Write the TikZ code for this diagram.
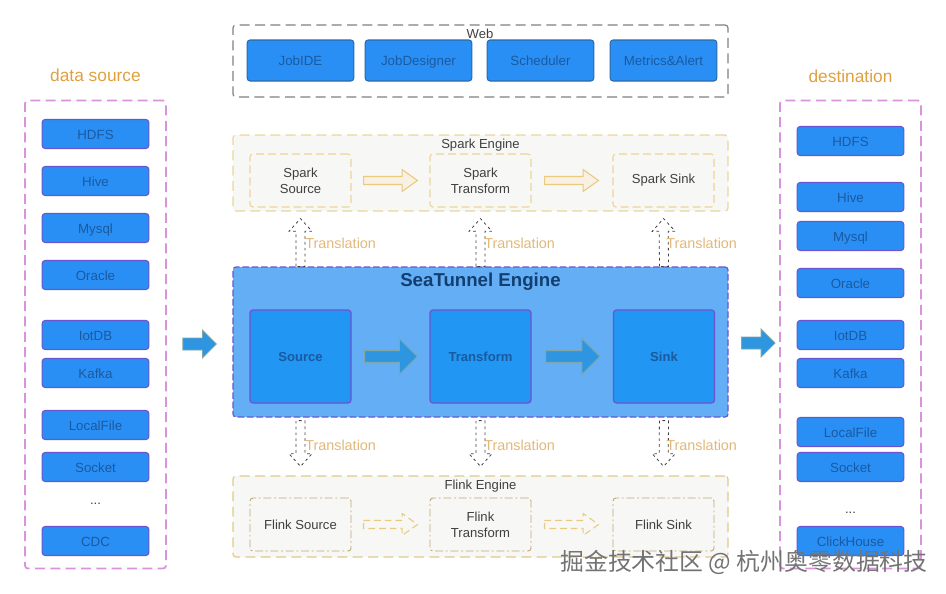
\documentclass[tikz,border=0pt]{standalone}
\usepackage{fontspec}
\setmainfont{Liberation Sans}
\newfontfamily\cjkfont{Noto Sans CJK SC}
\usepackage{tikz}
\usetikzlibrary{arrows.meta}
\usetikzlibrary{positioning}
\usetikzlibrary{calc}

\definecolor{itemblue}{HTML}{2A8FF5}
\definecolor{itemtext}{HTML}{1A5AA0}
\definecolor{itemline}{HTML}{6A55D0}
\definecolor{webline}{HTML}{2A6AA8}
\definecolor{corefill}{HTML}{2196F3}
\definecolor{enginefill}{HTML}{64AEF5}
\definecolor{enginetext}{HTML}{123F70}
\definecolor{pinkline}{HTML}{D993DC}
\definecolor{sandline}{HTML}{EBD59B}
\definecolor{flinkline}{HTML}{E3C88A}
\definecolor{sandfill}{HTML}{F7F7F5}
\definecolor{labelorange}{HTML}{E0A040}
\definecolor{transtext}{HTML}{E2B878}
\definecolor{arrowblue}{HTML}{2E96E0}
\definecolor{arrowedge}{HTML}{7FA6A8}
\definecolor{hollowline}{HTML}{EAC980}
\definecolor{hollowfill}{HTML}{F8F1E3}

\tikzset{
    item/.style={draw=itemline, fill=itemblue, text=itemtext, line width=0.8pt, rounded corners=2.2pt, minimum width=80pt, minimum height=21.75pt, inner sep=0pt, text height=10pt, text depth=2pt, font=\fontsize{10pt}{11pt}\selectfont},
    webitem/.style={item, draw=webline, minimum width=80pt, minimum height=30.75pt},
    column/.style={draw=pinkline, line width=1.3pt, dash pattern=on 7.5pt off 4pt, rounded corners=2.2pt, minimum width=105.75pt, minimum height=351pt, inner sep=0pt},
    band/.style={draw=sandline, fill=sandfill, line width=0.9pt, dash pattern=on 7.5pt off 4pt, rounded corners=2.2pt, minimum width=371.25pt, inner sep=0pt},
    phase/.style={draw=sandline, line width=0.8pt, dash pattern=on 6pt off 3pt, rounded corners=2.2pt, minimum width=75.75pt, minimum height=39.75pt, inner sep=0pt, align=center, text=black!75, font=\fontsize{9.8pt}{12pt}\selectfont},
    flinkphase/.style={phase, draw=black!15!flinkline, line width=0.7pt, dash pattern=on 6pt off 2pt on 1.5pt off 2pt},
    core/.style={draw=itemline, fill=corefill, text=itemtext, line width=0.9pt, rounded corners=2.2pt, minimum width=75.75pt, minimum height=69.75pt, inner sep=0pt, text height=10pt, text depth=2pt, font=\bfseries\fontsize{9.8pt}{11pt}\selectfont},
    plain/.style={inner sep=0pt, text=black!75, font=\fontsize{9.8pt}{11pt}\selectfont},
    heading/.style={inner sep=0pt, text=labelorange, font=\fontsize{13pt}{15pt}\selectfont},
    trans/.style={inner sep=0pt, anchor=west, text=transtext, font=\fontsize{10.8pt}{13pt}\selectfont},
    block/.style n args={5}{to path={
        let \p1=(\tikztostart), \p2=(\tikztotarget), \n1={atan2(\y2-\y1,\x2-\x1)}, \n2={veclen(\x2-\x1,\y2-\y1)} in
        ([shift={(\p1)}, rotate=\n1]#1,#3)
        -- ([shift={(\p1)}, rotate=\n1]\n2-#2-#4,#3)
        -- ([shift={(\p1)}, rotate=\n1]\n2-#2-#4,#5)
        -- ([shift={(\p1)}, rotate=\n1]\n2-#2,0pt)
        -- ([shift={(\p1)}, rotate=\n1]\n2-#2-#4,-#5)
        -- ([shift={(\p1)}, rotate=\n1]\n2-#2-#4,-#3)
        -- ([shift={(\p1)}, rotate=\n1]#1,-#3)
        -- cycle}},
    solidarrow/.style 2 args={block={#1}{#2}{4.5pt}{13.5pt}{13.5pt}, draw=arrowedge, fill=arrowblue, line width=0.8pt, line join=miter},
    smallarrow/.style 2 args={block={#1}{#2}{4.5pt}{10.5pt}{10.5pt}, draw=arrowedge, fill=arrowblue, line width=0.6pt},
    hollowarrow/.style 2 args={block={#1}{#2}{3pt}{11.5pt}{8.2pt}, draw=hollowline, fill=hollowfill, line width=0.8pt},
    dashedarrow/.style 2 args={hollowarrow={#1}{#2}, fill=none, dash pattern=on 5pt off 3pt},
    transarrow/.style 2 args={block={#1}{#2}{3.4pt}{9.5pt}{8.6pt}, draw=black!75, line width=0.6pt, dash pattern=on 2pt off 2.4pt},
}

\begin{document}
\begin{tikzpicture}[x=0.75pt, y=-0.75pt]
    \useasboundingbox (0,0) rectangle (946,593);

    \node[column] (srcbox) at (95.5,334.5) {};
    \node[column] (dstbox) at (850.5,334.5) {};
    \node[heading] (srctitle) at (95.5,75) {data source};
    \node[heading] (dsttitle) at (850.5,76) {destination};

    \node[item] (hdfsa) at (95.5,134) {HDFS};
    \node[item] (hivea) at (95.5,181) {Hive};
    \node[item] (mysqla) at (95.5,228) {Mysql};
    \node[item] (oraclea) at (95.5,275) {Oracle};
    \node[item] (iotdba) at (95.5,335) {IotDB};
    \node[item] (kafkaa) at (95.5,373) {Kafka};
    \node[item] (filea) at (95.5,425) {LocalFile};
    \node[item] (socketa) at (95.5,467) {Socket};
    \node[plain] (dotsa) at (95.5,504) {...};
    \node[item] (cdca) at (95.5,541) {CDC};

    \node[item] (hdfsb) at (850.5,141) {HDFS};
    \node[item] (hiveb) at (850.5,197) {Hive};
    \node[item] (mysqlb) at (850.5,236) {Mysql};
    \node[item] (oracleb) at (850.5,283) {Oracle};
    \node[item] (iotdbb) at (850.5,335) {IotDB};
    \node[item] (kafkab) at (850.5,373) {Kafka};
    \node[item] (fileb) at (850.5,432) {LocalFile};
    \node[item] (socketb) at (850.5,467) {Socket};
    \node[plain] (dotsb) at (850.5,513) {...};
    \node[item] (clickb) at (850.5,541) {ClickHouse};

    \node[band, draw=black!50, fill=none, minimum height=54pt] (webbox) at (480.5,61) {};
    \node[plain] (webtitle) at (480,34) {Web};
    \node[webitem] (jobide) at (300.5,60.5) {JobIDE};
    \node[webitem] (jobdesigner) at (418.5,60.5) {JobDesigner};
    \node[webitem] (scheduler) at (540.5,60.5) {Scheduler};
    \node[webitem] (metrics) at (663.5,60.5) {Metrics\&Alert};

    \node[band, minimum height=57pt] (sparkbox) at (480.5,173) {};
    \node[plain] (sparktitle) at (480.5,145) {Spark Engine};
    \node[phase] (sparksrc) at (300.5,180.5) {Spark\\Source};
    \node[phase] (sparktr) at (480.5,180.5) {Spark\\Transform};
    \node[phase] (sparksink) at (663.5,180.5) {Spark Sink};

    \node[band, draw=itemline, fill=enginefill, dash pattern=on 5pt off 2pt, minimum height=112.5pt] (engine) at (480.5,342) {};
    \node[inner sep=0pt, text=enginetext, font=\bfseries\fontsize{14pt}{16pt}\selectfont] (enginetitle) at (480.5,281.5) {SeaTunnel Engine};
    \node[core] (source) at (300.5,356.5) {Source};
    \node[core] (transform) at (480.5,356.5) {Transform};
    \node[core] (sink) at (664,356.5) {Sink};

    \node[band, draw=flinkline, minimum height=60.75pt] (flinkbox) at (480.5,516.5) {};
    \node[plain] (flinktitle) at (480.5,486) {Flink Engine};
    \node[flinkphase] (flinksrc) at (300.5,524.5) {Flink Source};
    \node[flinkphase] (flinktr) at (480.5,524.5) {Flink\\Transform};
    \node[flinkphase] (flinksink) at (663.5,524.5) {Flink Sink};

    \draw[transarrow={0pt}{5.25pt}] (source |- engine.north) to (sparksrc |- sparkbox.south);
    \draw[transarrow={0pt}{5.25pt}] (transform |- engine.north) to (sparktr |- sparkbox.south);
    \draw[transarrow={0pt}{5.25pt}] (sink |- engine.north) to (sparksink |- sparkbox.south);
    \draw[transarrow={2.25pt}{6.75pt}] (source |- engine.south) to (flinksrc |- flinkbox.north);
    \draw[transarrow={2.25pt}{6.75pt}] (transform |- engine.south) to (flinktr |- flinkbox.north);
    \draw[transarrow={2.25pt}{6.75pt}] (sink |- engine.south) to (flinksink |- flinkbox.north);

    \node[trans] (transa) at (305,243) {Translation};
    \node[trans] (transb) at (484,243) {Translation};
    \node[trans] (transc) at (666,243) {Translation};
    \node[trans] (transd) at (305,445) {Translation};
    \node[trans] (transe) at (484,445) {Translation};
    \node[trans] (transf) at (666,445) {Translation};

    \draw[smallarrow={12pt}{12pt}] (srcbox.east |- 0,344) to (engine.west |- 0,344);
    \draw[smallarrow={9.75pt}{3pt}] (engine.east |- 0,343) to (dstbox.west |- 0,343);
    \draw[solidarrow={9.75pt}{9pt}] (source.east) to (transform.west);
    \draw[solidarrow={10.5pt}{9.75pt}] (transform.east) to (sink.west);

    \draw[hollowarrow={9pt}{9pt}] (sparksrc.east) to (sparktr.west);
    \draw[hollowarrow={9.75pt}{10.5pt}] (sparktr.east) to (sparksink.west);
    \draw[dashedarrow={9pt}{9pt}] (flinksrc.east) to (flinktr.west);
    \draw[dashedarrow={9.75pt}{10.5pt}] (flinktr.east) to (flinksink.west);

    \node[inner sep=0pt, text=black!55, font=\cjkfont\fontsize{17.9pt}{20pt}\selectfont] (mark) at (744,562) {掘金技术社区 @ 杭州奥零数据科技};
\end{tikzpicture}
\end{document}
